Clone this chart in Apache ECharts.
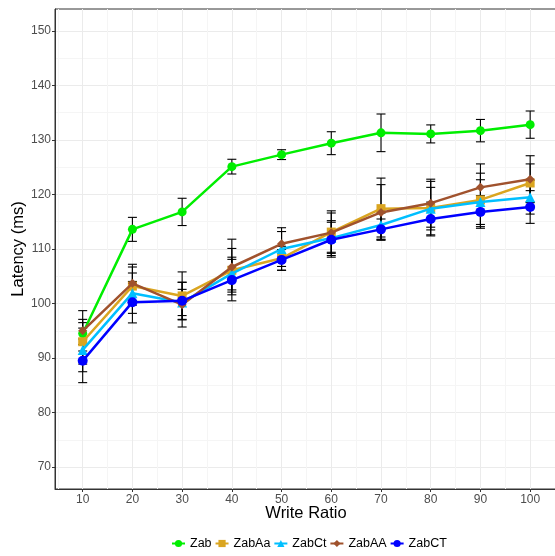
<!DOCTYPE html>
<html>
<head>
<meta charset="utf-8">
<script src="https://cdn.jsdelivr.net/npm/echarts@6/dist/echarts.min.js"></script>
<style>
  html, body { margin: 0; padding: 0; background: #fff; }
  #chart { width: 555px; height: 556px; }
</style>
</head>
<body>
<div id="chart"></div>
<script>
// write ratio on the x axis
const writeRatio = [10, 20, 30, 40, 50, 60, 70, 80, 90, 100];
const xTicks = [10, 20, 30, 40, 50, 60, 70, 80, 90, 100];
const xMinor = [5, 15, 25, 35, 45, 55, 65, 75, 85, 95, 105];
const yTicks = [70, 80, 90, 100, 110, 120, 130, 140, 150];
const yMinor = [75, 85, 95, 105, 115, 125, 135, 145];

// mean latency (ms) and error (+/-)
const zab      = [94.5, 113.6, 116.8, 125.1, 127.3, 129.4, 131.3, 131.1, 131.7, 132.8];
const zabErr   = [2.0, 2.2, 2.5, 1.35, 0.9, 2.1, 3.45, 1.65, 2.05, 2.5];
const zabAa    = [93.0, 103.2, 101.4, 106.1, 108.3, 113.1, 117.4, 117.5, 119.0, 122.1];
const zabAaErr = [4.1, 3.5, 4.4, 4.0, 2.2, 3.9, 5.6, 4.9, 4.9, 3.5];
const zabCt    = [91.5, 101.9, 100.2, 105.5, 110.0, 112.0, 114.4, 117.4, 118.6, 119.5];
const zabCtErr = [4.0, 3.7, 2.4, 3.0, 3.2, 3.2, 2.2, 3.9, 4.1, 3.1];
const zabAA    = [95.0, 103.7, 99.8, 106.7, 110.95, 113.0, 116.7, 118.4, 121.3, 122.8];
const zabAAErr = [3.7, 3.5, 4.1, 5.1, 2.95, 3.6, 5.1, 4.4, 4.3, 4.3];
const zabCT    = [89.5, 100.25, 100.5, 104.3, 108.0, 111.7, 113.6, 115.5, 116.8, 117.7];
const zabCTErr = [4.0, 3.8, 3.4, 3.8, 1.9, 3.2, 1.9, 3.1, 3.0, 3.0];

const groups = [
  { name: 'Zab',   vals: zab,   err: zabErr,   color: '#00ee00', symbol: 'circle',   size: 9 },
  { name: 'ZabAa', vals: zabAa, err: zabAaErr, color: '#daa520', symbol: 'rect',     size: 9 },
  { name: 'ZabCt', vals: zabCt, err: zabCtErr, color: '#00bfff', symbol: 'triangle', size: 10 },
  { name: 'ZabAA', vals: zabAA, err: zabAAErr, color: '#a0522d', symbol: 'diamond',  size: 9 },
  { name: 'ZabCT', vals: zabCT, err: zabCTErr, color: '#0000ff', symbol: 'circle',   size: 10 }
];

const FONT = '"Liberation Sans", Arial, sans-serif';

function errorBars(params, api) {
  const x = api.value(0);
  const lo = api.coord([x, api.value(1)]);
  const hi = api.coord([x, api.value(2)]);
  const hw = 4.5;
  const style = { stroke: '#000', lineWidth: 1.1 };
  return {
    type: 'group',
    children: [
      { type: 'line', shape: { x1: lo[0], y1: lo[1], x2: hi[0], y2: hi[1] }, style: style },
      { type: 'line', shape: { x1: lo[0] - hw, y1: lo[1], x2: lo[0] + hw, y2: lo[1] }, style: style },
      { type: 'line', shape: { x1: hi[0] - hw, y1: hi[1], x2: hi[0] + hw, y2: hi[1] }, style: style }
    ]
  };
}

const series = [];
groups.forEach(g => {
  series.push({
    type: 'custom',
    name: g.name + ' err',
    renderItem: errorBars,
    z: 1,
    silent: true,
    data: writeRatio.map((x, i) => [x, g.vals[i] - g.err[i], g.vals[i] + g.err[i]])
  });
});
groups.forEach((g, k) => {
  series.push({
    type: 'line',
    name: g.name,
    z: 3 + k,
    data: writeRatio.map((x, i) => [x, g.vals[i]]),
    symbol: g.symbol,
    symbolSize: g.size,
    showAllSymbol: true,
    color: g.color,
    lineStyle: { width: 2.5, color: g.color },
    itemStyle: { color: g.color },
    emphasis: { disabled: true }
  });
});

const chart = echarts.init(document.getElementById('chart'), null, { renderer: 'canvas' });
chart.setOption({
  animation: false,
  backgroundColor: '#fff',
  grid: {
    left: 55, right: -2, top: 9, bottom: 67,
    containLabel: false, outerBoundsMode: 'none',
    show: true, borderColor: '#333', borderWidth: 1, backgroundColor: 'transparent'
  },
  legend: {
    data: groups.map(g => g.name),
    left: 166, top: 532,
    itemWidth: 13, itemHeight: 9, itemGap: 3,
    textStyle: { fontFamily: FONT, fontSize: 12.5, color: '#000' }
  },
  xAxis: [
    {
      type: 'value', min: 4.43, max: 105.4,
      name: 'Write Ratio', nameLocation: 'middle', nameGap: 16, nameMoveOverlap: false,
      nameTextStyle: { fontFamily: FONT, fontSize: 16.5, color: '#000' },
      axisLine: { show: true, lineStyle: { color: '#333', width: 1 } },
      axisTick: { show: true, length: 3, customValues: xTicks, lineStyle: { color: '#333' } },
      axisLabel: { customValues: xTicks, fontFamily: FONT, fontSize: 12, color: '#4d4d4d', margin: 5 },
      splitLine: { show: true, lineStyle: { color: '#ebebeb', width: 1 } }
    },
    {
      type: 'value', min: 4.43, max: 105.4, gridIndex: 0, position: 'bottom',
      axisLine: { show: false },
      axisTick: { show: false, customValues: xMinor },
      axisLabel: { show: false, customValues: xMinor },
      splitLine: { show: true, lineStyle: { color: '#f5f5f5', width: 1 } }
    }
  ],
  yAxis: [
    {
      type: 'value', min: 66, max: 154,
      name: 'Latency (ms)', nameLocation: 'middle', nameGap: 28, nameMoveOverlap: false,
      nameTextStyle: { fontFamily: FONT, fontSize: 16.5, color: '#000' },
      axisLine: { show: true, lineStyle: { color: '#333', width: 1 } },
      axisTick: { show: true, length: 3, customValues: yTicks, lineStyle: { color: '#333' } },
      axisLabel: { customValues: yTicks, fontFamily: FONT, fontSize: 12, color: '#4d4d4d', margin: 4 },
      splitLine: { show: true, lineStyle: { color: '#ebebeb', width: 1 } }
    },
    {
      type: 'value', min: 66, max: 154, gridIndex: 0, position: 'left',
      axisLine: { show: false },
      axisTick: { show: false, customValues: yMinor },
      axisLabel: { show: false, customValues: yMinor },
      splitLine: { show: true, lineStyle: { color: '#f5f5f5', width: 1 } }
    }
  ],
  series: series
});
</script>
</body>
</html>
